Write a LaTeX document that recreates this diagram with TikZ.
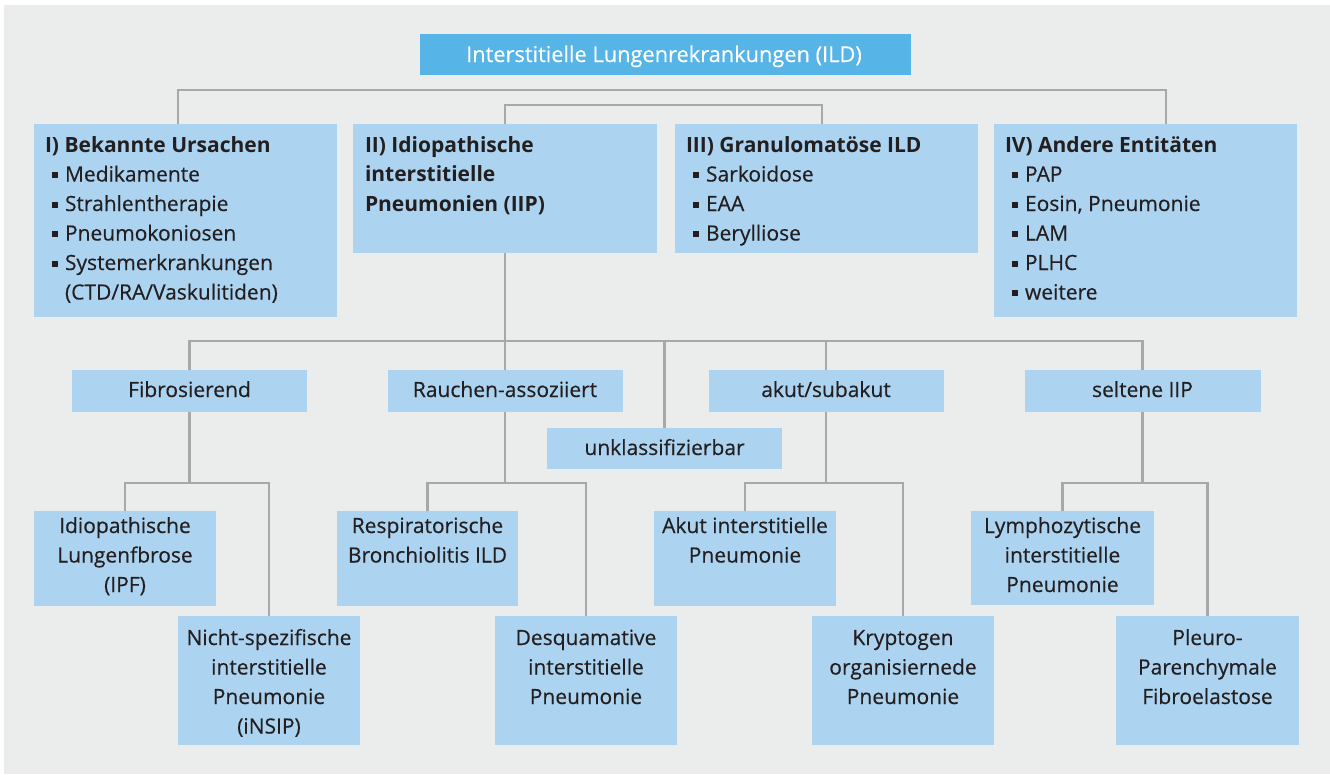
\documentclass[tikz,border=0pt]{standalone}
\usepackage{fontspec}
\setmainfont{Open Sans}[UprightFeatures={FakeBold=0.35}]
\definecolor{bgpanel}{HTML}{EBECEC}
\definecolor{lblue}{HTML}{ACD3F0}
\definecolor{tblue}{HTML}{56B4E6}
\definecolor{lgray}{HTML}{A7A8AA}
\definecolor{tdark}{HTML}{231F20}
\newcommand{\fs}{\rule{0pt}{19pt}}
\newcommand{\bul}{\hspace*{6.5pt}\rule[3.5pt]{6pt}{6pt}\hspace{7.5pt}}
\tikzset{
  conn/.style={draw=lgray, line width=2.6pt},
  box/.style={fill=lblue, inner sep=0pt, outer sep=0pt, draw=none},
  txt/.style={inner sep=0pt, outer sep=0pt, text=tdark, font=\fontsize{21}{29.5}\selectfont, align=center, anchor=north},
  ltxt/.style={txt, align=left, anchor=north west},
}
\begin{document}
\begin{tikzpicture}[x=1pt,y=-1pt]
\useasboundingbox (0,0) rectangle (1330,774);
\fill[white] (0,0) rectangle (1330,774);
\fill[bgpanel] (4,5) rectangle (1330,774);

% boxes
\node[fill=tblue, inner sep=0pt, minimum width=491pt, minimum height=41pt] (top) at (665.5,54.5) {};
\node[box, minimum width=303pt, minimum height=193pt] (b1) at (185.5,220.5) {};
\node[box, minimum width=304pt, minimum height=129pt] (b2) at (505,188.5) {};
\node[box, minimum width=303pt, minimum height=129pt] (b3) at (826.5,188.5) {};
\node[box, minimum width=303pt, minimum height=193pt] (b4) at (1145.5,220.5) {};

\node[box, minimum width=235pt, minimum height=42pt] (fib) at (189.5,391) {};
\node[box, minimum width=235pt, minimum height=42pt] (rau) at (505,391) {};
\node[box, minimum width=235pt, minimum height=41pt] (unk) at (664.5,448.5) {};
\node[box, minimum width=235pt, minimum height=42pt] (aku) at (826,391) {};
\node[box, minimum width=236pt, minimum height=42pt] (sel) at (1142.5,391) {};

\node[box, minimum width=182pt, minimum height=95pt] (ipf) at (125,558.5) {};
\node[box, minimum width=182pt, minimum height=129pt] (nsip) at (269,680.5) {};
\node[box, minimum width=181pt, minimum height=95pt] (rb) at (427.5,558.5) {};
\node[box, minimum width=182pt, minimum height=129pt] (dip) at (586,680.5) {};
\node[box, minimum width=182pt, minimum height=95pt] (aip) at (745,558.5) {};
\node[box, minimum width=182pt, minimum height=129pt] (cop) at (903,680.5) {};
\node[box, minimum width=183pt, minimum height=94pt] (lip) at (1062.5,558) {};
\node[box, minimum width=183pt, minimum height=129pt] (ppfe) at (1207.5,680.5) {};

% junction coordinates
\coordinate (h0a) at (178,90);
\coordinate (h0b) at (1166,90);
\coordinate (h1a) at (505,105);
\coordinate (h1b) at (822,105);
\coordinate (h2) at (0,341);
\coordinate (h3) at (0,483);

% connectors
\draw[conn] (h0a |- b1.north) -- (h0a) -- (h0b) -- (h0b |- b4.north);
\draw[conn] (b2.north) -- (h1a) -- (h1b) -- (h1b |- b3.north);
\draw[conn] (b2.south) -- (b2.south |- h2);
\draw[conn] (fib.north) -- (fib.north |- h2) -- (sel.north |- h2) -- (sel.north);
\draw[conn] (rau.north) -- (rau.north |- h2);
\draw[conn] (unk.north) -- (unk.north |- h2);
\draw[conn] (aku.north) -- (aku.north |- h2);
\draw[conn] (fib.south) -- (fib.south |- h3);
\draw[conn] (ipf.north) -- (ipf.north |- h3) -- (nsip.north |- h3) -- (nsip.north);
\draw[conn] (rau.south) -- (rau.south |- h3);
\draw[conn] (rb.north) -- (rb.north |- h3) -- (dip.north |- h3) -- (dip.north);
\draw[conn] (aku.south) -- (aku.south |- h3);
\draw[conn] (aip.north) -- (aip.north |- h3) -- (cop.north |- h3) -- (cop.north);
\draw[conn] (sel.south) -- (sel.south |- h3);
\draw[conn] (lip.north) -- (lip.north |- h3) -- (ppfe.north |- h3) -- (ppfe.north);

% texts
\node[txt, text=white, anchor=base, font=\fontsize{21.8}{29.5}\selectfont] (topt) at (664,62) {Interstitielle Lungenrekrankungen (ILD)};

\node[ltxt] (b1t) at (45,133) {\fs\textbf{I) Bekannte Ursachen}\\
\bul Medikamente\\ \bul Strahlentherapie\\ \bul Pneumokoniosen\\ \bul Systemerkrankungen\\ \hspace*{20pt}(CTD/RA/Vaskulitiden)};
\node[ltxt] (b2t) at (365,133) {\fs\textbf{II) Idiopathische}\\ \textbf{interstitielle}\\ \textbf{Pneumonien (IIP)}};
\node[ltxt] (b3t) at (686,133) {\fs\textbf{III) Granulomatöse ILD}\\
\bul Sarkoidose\\ \bul EAA\\ \bul Berylliose};
\node[ltxt] (b4t) at (1005,133) {\fs\textbf{IV) Andere Entitäten}\\
\bul PAP\\ \bul Eosin, Pneumonie\\ \bul LAM\\ \bul PLHC\\ \bul weitere};

\node[txt, anchor=base] (fibt) at (fib.north |- 0,397) {Fibrosierend};
\node[txt, anchor=base] (raut) at (rau.north |- 0,397) {Rauchen-assoziiert};
\node[txt, anchor=base] (unkt) at (unk.north |- 0,455) {unklassifizierbar};
\node[txt, anchor=base] (akut) at (aku.north |- 0,397) {akut/subakut};
\node[txt, anchor=base] (selt) at (sel.north |- 0,397) {seltene IIP};

\node[txt] (ipft) at (ipf.north |- 0,514) {\fs Idiopathische\\ Lungenfbrose\\ (IPF)};
\node[txt] (nsipt) at (nsip.north |- 0,626) {\fs Nicht-spezifische\\ interstitielle\\ Pneumonie\\ (iNSIP)};
\node[txt] (rbt) at (rb.north |- 0,514) {\fs Respiratorische\\ Bronchiolitis ILD};
\node[txt] (dipt) at (dip.north |- 0,626) {\fs Desquamative\\ interstitielle\\ Pneumonie};
\node[txt] (aipt) at (aip.north |- 0,514) {\fs Akut interstitielle\\ Pneumonie};
\node[txt] (copt) at (cop.north |- 0,626) {\fs Kryptogen\\ organisiernede\\ Pneumonie};
\node[txt] (lipt) at (lip.north |- 0,514) {\fs Lymphozytische\\ interstitielle\\ Pneumonie};
\node[txt] (ppfet) at (ppfe.north |- 0,626) {\fs Pleuro-\\ Parenchymale\\ Fibroelastose};
\end{tikzpicture}
\end{document}
